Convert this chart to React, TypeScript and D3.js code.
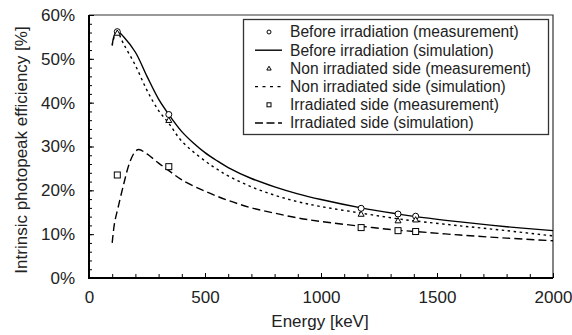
import * as d3 from "d3";
import { useEffect, useRef } from "react";

// measured energies [keV]
const measEnergies = [122, 344, 1173, 1332, 1408];
// measured efficiencies [%]
const beforeMeas = [56.2, 37.3, 15.9, 14.6, 14.1];
const nonIrrMeas = [55.9, 36.0, 14.6, 13.1, 13.3];
const irrMeas = [23.5, 25.4, 11.5, 10.8, 10.6];

// simulation curves [keV] / [%]
const beforeSimE = [100, 110, 122, 150, 200, 250, 300, 344, 400, 450, 500, 550, 600, 700, 800, 900, 1000, 1173, 1332, 1408, 1600, 1800, 2000];
const beforeSimV = [53.2, 55.5, 56.3, 55.0, 51.5, 46.0, 40.8, 37.3, 33.4, 30.8, 28.6, 26.8, 25.2, 22.7, 20.8, 19.2, 17.9, 16.0, 14.6, 14.0, 12.8, 11.7, 10.8];

const nonIrrSimE = [100, 110, 122, 150, 200, 250, 300, 344, 400, 500, 550, 600, 700, 800, 900, 1000, 1173, 1332, 1408, 1600, 1800, 2000];
const nonIrrSimV = [53.0, 55.2, 56.0, 53.3, 48.5, 42.8, 38.2, 35.3, 31.2, 26.7, 24.9, 23.3, 20.8, 18.9, 17.4, 16.3, 14.8, 13.5, 13.0, 11.9, 10.8, 9.6];

const irrSimE = [100, 110, 125, 150, 175, 200, 215, 250, 300, 344, 400, 500, 600, 700, 800, 900, 1000, 1173, 1332, 1408, 1600, 1800, 2000];
const irrSimV = [8.0, 12.5, 16.0, 21.5, 26.3, 28.9, 29.3, 28.3, 26.2, 24.5, 22.4, 19.8, 17.7, 16.0, 14.8, 13.7, 12.9, 11.8, 10.9, 10.6, 9.8, 9.1, 8.5];

const legendLabels = [
  "Before irradiation (measurement)",
  "Before irradiation (simulation)",
  "Non irradiated side (measurement)",
  "Non irradiated side (simulation)",
  "Irradiated side (measurement)",
  "Irradiated side (simulation)",
];

const W = 572;
const H = 335;
const FONT = "'Liberation Sans', Arial, sans-serif";

function App() {
  const ref = useRef<SVGSVGElement>(null);

  useEffect(() => {
    const svg = d3.select(ref.current);
    svg.selectAll("*").remove();

    const left = 89, right = 553, top = 15, bottom = 278;
    const x = d3.scaleLinear().domain([0, 2000]).range([left, right]);
    const y = d3.scaleLinear().domain([0, 60]).range([bottom, top]);

    // frame top/right
    svg.append("path")
      .attr("d", `M${left},${top}H${right}V${bottom}`)
      .attr("fill", "none").attr("stroke", "#333").attr("stroke-width", 1.2);

    // y axis: minor + major, inward ticks
    const yMinor = svg.append("g").attr("transform", `translate(${left},0)`)
      .call(d3.axisLeft(y).tickValues(d3.range(0, 61, 2)).tickSize(-3).tickFormat(() => ""));
    yMinor.select(".domain").remove();
    const yAxis = svg.append("g").attr("transform", `translate(${left},0)`)
      .call(d3.axisLeft(y).tickValues(d3.range(0, 61, 10)).tickSize(-5).tickPadding(14)
        .tickFormat((d) => `${d}%`));
    yAxis.select(".domain").remove();
    yAxis.selectAll("text").attr("font-size", 17).attr("font-family", FONT).attr("fill", "#222");

    const xMinor = svg.append("g").attr("transform", `translate(0,${bottom})`)
      .call(d3.axisBottom(x).tickValues(d3.range(0, 2001, 100)).tickSize(-4).tickFormat(() => ""));
    xMinor.select(".domain").remove();
    const xAxis = svg.append("g").attr("transform", `translate(0,${bottom})`)
      .call(d3.axisBottom(x).tickValues(d3.range(0, 2001, 500)).tickSize(-5).tickPadding(13)
        .tickFormat(d3.format("d")));
    xAxis.select(".domain").remove();
    xAxis.selectAll("text").attr("font-size", 17).attr("font-family", FONT).attr("fill", "#222");

    // main axis lines
    svg.append("path")
      .attr("d", `M${left},${top}V${bottom}H${right}`)
      .attr("fill", "none").attr("stroke", "#000").attr("stroke-width", 2);

    // titles
    svg.append("text").attr("x", (left + right) / 2 - 1).attr("y", 327)
      .attr("text-anchor", "middle").attr("font-size", 17).attr("font-family", FONT)
      .attr("fill", "#222").text("Energy [keV]");
    svg.append("text").attr("transform", `translate(27,150) rotate(-90)`)
      .attr("text-anchor", "middle").attr("font-size", 17).attr("font-family", FONT)
      .attr("fill", "#222").text("Intrinsic photopeak efficiency [%]");

    const drawCurve = (es: number[], vs: number[], dash: string | null) => {
      const pts = es.map((e, i) => [x(e), y(vs[i])] as [number, number]);
      svg.append("path")
        .attr("d", d3.line().curve(d3.curveCatmullRom.alpha(0.5))(pts))
        .attr("fill", "none").attr("stroke", "#000").attr("stroke-width", 1.4)
        .attr("stroke-dasharray", dash);
    };

    drawCurve(beforeSimE, beforeSimV, null);
    drawCurve(nonIrrSimE, nonIrrSimV, "2.5,3.5");
    drawCurve(irrSimE, irrSimV, "8,4");

    const circle = (g: any, cx: number, cy: number, r: number) =>
      g.append("circle").attr("cx", cx).attr("cy", cy).attr("r", r)
        .attr("fill", "#fff").attr("stroke", "#000").attr("stroke-width", 1);
    const tri = (g: any, cx: number, cy: number, s: number) =>
      g.append("path")
        .attr("d", `M${cx},${cy - s}L${cx + s},${cy + s * 0.75}L${cx - s},${cy + s * 0.75}Z`)
        .attr("fill", "#fff").attr("stroke", "#000").attr("stroke-width", 1);
    const sq = (g: any, cx: number, cy: number, s: number) =>
      g.append("rect").attr("x", cx - s).attr("y", cy - s).attr("width", 2 * s).attr("height", 2 * s)
        .attr("fill", "#fff").attr("stroke", "#000").attr("stroke-width", 1);

    const marks = svg.append("g");
    measEnergies.forEach((e, i) => sq(marks, x(e), y(irrMeas[i]), 3));
    measEnergies.forEach((e, i) => circle(marks, x(e), y(beforeMeas[i]), 3));
    measEnergies.forEach((e, i) => tri(marks, x(e), y(nonIrrMeas[i]), 3));

    // legend
    const lg = svg.append("g");
    lg.append("rect").attr("x", 243.5).attr("y", 19.5).attr("width", 305).attr("height", 115)
      .attr("fill", "#fff").attr("stroke", "#333").attr("stroke-width", 1.3);
    legendLabels.forEach((label, i) => {
      const cy = 32 + i * 18.2;
      if (i === 0) circle(lg, 269, cy, 2);
      if (i === 2) tri(lg, 269, cy, 2.2);
      if (i === 4) sq(lg, 269, cy, 2);
      if (i % 2 === 1) {
        lg.append("line").attr("x1", 255).attr("x2", 282).attr("y1", cy).attr("y2", cy)
          .attr("stroke", "#000").attr("stroke-width", 1.4)
          .attr("stroke-dasharray", i === 1 ? null : i === 3 ? "3,4.5" : "8,3.5");
      }
      lg.append("text").attr("x", 290).attr("y", cy).attr("dy", "0.35em")
        .attr("font-size", 15.6).attr("font-family", FONT).attr("fill", "#222").text(label);
    });
  }, []);

  return (
    <div style={{ position: "fixed", left: 0, top: 0 }}>
      <svg ref={ref} width={W} height={H} style={{ display: "block", background: "#fff" }} />
    </div>
  );
}

export default App;
